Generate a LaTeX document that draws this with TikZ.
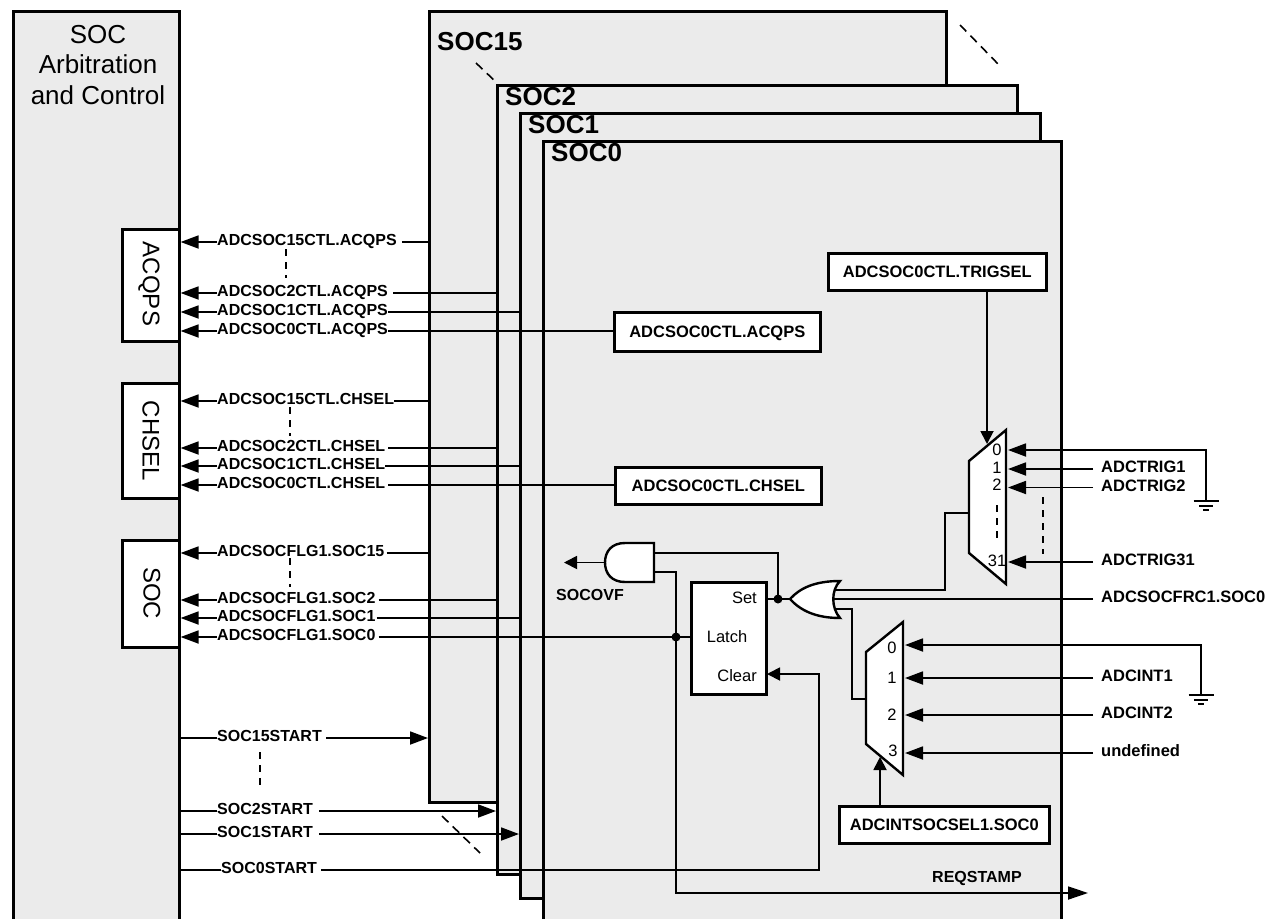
\documentclass[tikz,border=0pt]{standalone}
\usepackage{fontspec}
\setmainfont{Liberation Sans}
\usetikzlibrary{arrows.meta}
\definecolor{panelgrey}{HTML}{EBEBEB}
\tikzset{
  x=1pt,y=-1pt,
  panel/.style={draw=black,line width=2.6pt,fill=panelgrey,anchor=north west,inner sep=0pt},
  whitebox/.style={draw=black,line width=2.6pt,fill=white,anchor=north west,inner sep=0pt,text height=12pt,text depth=0pt,font=\fontsize{16.5}{18}\bfseries},
  lab/.style={anchor=west,inner sep=0pt,text height=11.5pt,text depth=4pt,font=\fontsize{16}{18}\bfseries},
  rlab/.style={lab,font=\fontsize{16.5}{18}\bfseries},
  soctitle/.style={anchor=west,inner sep=0pt,font=\fontsize{26}{28}\bfseries},
  reg/.style={inner sep=0pt,font=\fontsize{16.5}{18}\selectfont},
  vert/.style={inner sep=0pt,rotate=-90,font=\fontsize{24}{26}\selectfont},
  wire/.style={line width=1.8pt},
  arr/.style={line width=1.8pt,-{Triangle[length=18pt,width=13pt]}},
  arrs/.style={line width=1.8pt,-{Triangle[length=13pt,width=13pt]}},
  gate/.style={draw=black,line width=2.4pt,fill=white,line join=miter},
  dashv/.style={line width=1.3pt,dash pattern=on 7pt off 6pt},
  dashd/.style={line width=1.6pt,dash pattern=on 9pt off 6pt},
  junction/.style={circle,fill=black,inner sep=0pt,minimum size=9pt},
}
\begin{document}
\begin{tikzpicture}
\useasboundingbox (0,0) rectangle (1273,918);
\clip (0,0) rectangle (1273,918);
\fill[white] (0,0) rectangle (1273,918);
% panels
\node[panel,minimum width=166pt,minimum height=930pt] (arb) at (12,10) {};
\node[panel,minimum width=517pt,minimum height=791pt] (soc15) at (428,10) {};
\node[panel,minimum width=520pt,minimum height=789pt] (soc2) at (496,84) {};
\node[panel,minimum width=520pt,minimum height=785pt] (soc1) at (519,112) {};
\node[panel,minimum width=518pt,minimum height=800pt] (soc0) at (542,140) {};
\node[soctitle] (t15) at (437,42) {SOC15};
\node[soctitle] (t2) at (505,97) {SOC2};
\node[soctitle] (t1) at (528,125) {SOC1};
\node[soctitle] (t0) at (551,153) {SOC0};
\node[inner sep=0pt,align=center,font=\fontsize{26}{30.5}\selectfont] (arbt) at (98,65) {SOC\\Arbitration\\and Control};
% left side boxes
\node[whitebox,minimum width=57pt,minimum height=112pt] (bacq) at (121,228) {};
\node[whitebox,minimum width=57pt,minimum height=115pt] (bch) at (121,382) {};
\node[whitebox,minimum width=57pt,minimum height=107pt] (bsoc) at (121,539) {};
\node[vert] (vacq) at (149,284) {ACQPS};
\node[vert] (vch) at (151,441) {CHSEL};
\node[vert] (vsoc) at (152,593) {SOC};
% register boxes
\node[whitebox,minimum width=206pt,minimum height=39pt] (racq) at (613,311) {ADCSOC0CTL.ACQPS};
\node[whitebox,minimum width=206pt,minimum height=37pt] (rch) at (614,466) {ADCSOC0CTL.CHSEL};
\node[whitebox,minimum width=218pt,minimum height=37pt] (rtrig) at (827,252) {ADCSOC0CTL.TRIGSEL};
\node[whitebox,minimum width=210pt,minimum height=37pt] (rint) at (838,805) {ADCINTSOCSEL1.SOC0};
% row labels
\node[lab] (a15) at (217,242) {ADCSOC15CTL.ACQPS};
\node[lab] (a2) at (217,293) {ADCSOC2CTL.ACQPS};
\node[lab] (a1) at (217,312) {ADCSOC1CTL.ACQPS};
\node[lab] (a0) at (217,331) {ADCSOC0CTL.ACQPS};
\node[lab] (c15) at (217,401) {ADCSOC15CTL.CHSEL};
\node[lab] (c2) at (217,448) {ADCSOC2CTL.CHSEL};
\node[lab] (c1) at (217,466) {ADCSOC1CTL.CHSEL};
\node[lab] (c0) at (217,485) {ADCSOC0CTL.CHSEL};
\node[lab] (f15) at (217,553) {ADCSOCFLG1.SOC15};
\node[lab] (f2) at (217,600) {ADCSOCFLG1.SOC2};
\node[lab] (f1) at (217,618) {ADCSOCFLG1.SOC1};
\node[lab] (f0) at (217,637) {ADCSOCFLG1.SOC0};
\node[lab] (s15) at (217,738) {SOC15START};
\node[lab] (s2) at (217,811) {SOC2START};
\node[lab] (s1) at (217,834) {SOC1START};
\node[lab] (s0) at (221,870) {SOC0START};
% left-going rows
\foreach \n in {a15,a2,a1,a0,c15,c2,c1,c0,f15,f2,f1,f0}{
  \draw[arr] (\n.west) -- (\n.west -| arb.east);
}
\draw[wire] ([xshift=5pt]a15.east) -- (a15.east -| soc15.west);
\draw[wire] ([xshift=5pt]a2.east) -- (a2.east -| soc2.west);
\draw[wire] (a1.east) -- (a1.east -| soc1.west);
\draw[wire] (a0.east) -- (a0.east -| racq.west);
\draw[wire] (c15.east) -- (c15.east -| soc15.west);
\draw[wire] ([xshift=3pt]c2.east) -- (c2.east -| soc2.west);
\draw[wire] (c1.east) -- (c1.east -| soc1.west);
\draw[wire] ([xshift=3pt]c0.east) -- (c0.east -| rch.west);
\draw[wire] ([xshift=2pt]f15.east) -- (f15.east -| soc15.west);
\draw[wire] ([xshift=3pt]f2.east) -- (f2.east -| soc2.west);
\draw[wire] ([xshift=1pt]f1.east) -- (f1.east -| soc1.west);
% start rows
\draw[wire] (arb.east |- s15.west) -- (s15.west);
\draw[wire] (arb.east |- s2.west) -- (s2.west);
\draw[wire] (arb.east |- s1.west) -- (s1.west);
\draw[wire] (arb.east |- s0.west) -- (s0.west);
\draw[arr] ([xshift=4pt]s15.east) -- (s15.east -| soc15.west);
\draw[arr] ([xshift=6pt]s2.east) -- (s2.east -| soc2.west);
\draw[arr] ([xshift=6pt]s1.east) -- (s1.east -| soc1.west);
% latch
\node[whitebox,minimum width=75pt,minimum height=112pt] (latch) at (690,581) {};
\node[reg,anchor=east] (lset) at (757,598) {Set};
\node[reg] (llat) at (727,637) {Latch};
\node[reg,anchor=east] (lclr) at (757,676) {Clear};
% gates
\coordinate (andout) at (605,562.5);
\coordinate (andtip) at (564,562.5);
\coordinate (andtop) at (654,553);
\coordinate (andbot) at (654,572);
\coordinate (orin) at (790,599);
\coordinate (oro1) at (836,590);
\coordinate (oro2) at (833,599);
\coordinate (oro3) at (836,609);
\coordinate (setj) at (778,599);
\coordinate (flagj) at (676,637);
\coordinate (clrtip) at (767,674);
\coordinate (clrc) at (819,674);
\coordinate (mux1in) at (969,513);
\coordinate (mux2in) at (866,699);
\coordinate (rq) at (1088,893);
\draw[wire] (andtop) -| (setj);
\draw[wire] (andbot) -| (flagj);
\draw[arr,-{Triangle[length=20pt,width=13pt]}] (flagj) |- (rq);
\draw[arrs] (andout) -- (andtip);
\draw[wire] ([xshift=3pt]f0.east) -- (latch.west |- f0.east);
\draw[gate] (654,543) -- (654,582) -- (625,582) .. controls (612,582) and (605,574) .. (605,562.5) .. controls (605,551) and (612,543) .. (625,543) -- cycle;
\draw[wire] (latch.east |- setj) -- (orin);
\draw[wire] (oro1) -- (945,590) -- (945,513) -- (mux1in);
\draw[wire] (oro3) -- (852,609) -- (852,699) -- (mux2in);
\draw[gate] (840,581) .. controls (815,581) and (800,588) .. (790,599) .. controls (800,610) and (815,618) .. (840,618) .. controls (831,608) and (831,590) .. (840,581) -- cycle;
\node[junction] (dset) at (setj) {};
\node[junction] (dflag) at (flagj) {};
\draw[arrs] ([xshift=4pt]s0.east) -- (s0.east -| clrc) -- (clrc) -- (clrtip);
% mux 1
\draw[gate] (969,461) -- (1006,430) -- (1006,584) -- (969,553) -- cycle;
\node[reg] (m10) at (997,450) {0};
\node[reg] (m11) at (997,468) {1};
\node[reg] (m12) at (997,485) {2};
\node[reg] (m131) at (997,561) {31};
\draw[dashv] (997,505) -- (997,540);
% mux 2
\draw[gate] (866,652) -- (903,622) -- (903,775) -- (866,744) -- cycle;
\node[reg] (m20) at (892,648) {0};
\node[reg] (m21) at (892,678) {1};
\node[reg] (m22) at (892,715) {2};
\node[reg] (m23) at (893,751) {3};
% right labels
\node[rlab] (tr1) at (1101,469) {ADCTRIG1};
\node[rlab] (tr2) at (1101,487.5) {ADCTRIG2};
\node[rlab] (tr31) at (1101,562) {ADCTRIG31};
\node[rlab] (frc) at (1101,599) {ADCSOCFRC1.SOC0};
\node[rlab] (i1) at (1101,678) {ADCINT1};
\node[rlab] (i2) at (1101,715) {ADCINT2};
\node[rlab] (iu) at (1101,753) {undefined};
\node[lab] (rqs) at (932,879) {REQSTAMP};
\node[lab] (ovf) at (556,597) {SOCOVF};
\coordinate (mt) at (1008,0);
\coordinate (mi) at (905,0);
\draw[arr] ([xshift=-8pt]tr1.west) -- (tr1.west -| mt);
\draw[arr] ([xshift=-8pt]tr2.west) -- (tr2.west -| mt);
\draw[arr] ([xshift=-8pt]tr31.west) -- (tr31.west -| mt);
\draw[wire] ([xshift=-8pt]frc.west) -- (oro2);
\draw[arr] ([xshift=-8pt]i1.west) -- (i1.west -| mi);
\draw[arr] ([xshift=-8pt]i2.west) -- (i2.west -| mi);
\draw[arr] ([xshift=-8pt]iu.west) -- (iu.west -| mi);
% ground connections
\coordinate (g1) at (1206,501);
\coordinate (g2) at (1201,695);
\draw[arr] (g1) |- (mt |- 0,450);
\draw[arr] (g2) |- (mi |- 0,645);
\foreach \c in {g1,g2}{
  \draw[line width=1.6pt] (\c) ++(-12.5,0) -- ++(25,0);
  \draw[line width=1.6pt] (\c) ++(-7,5) -- ++(14,0);
  \draw[line width=1.6pt] (\c) ++(-3,9) -- ++(6,0);
}
% select lines
\coordinate (seltrig) at (987,444);
\coordinate (selint) at (880,757);
\draw[arrs] (rtrig.south -| seltrig) -- (seltrig);
\draw[arrs] (rint.north -| selint) -- (selint);
% ellipsis dashes
\draw[dashv] (286,249) -- (286,278);
\draw[dashv] (290,407) -- (290,436);
\draw[dashv] (290,558) -- (290,587);
\draw[dashv] (260,752) -- (260,787);
\draw[dashv] (1043,497) -- (1043,554);
\draw[dashd] (476,63) -- (496,82);
\draw[dashd] (960,25) -- (1000,66);
\draw[dashd] (442,816) -- (480,853);
\end{tikzpicture}
\end{document}
